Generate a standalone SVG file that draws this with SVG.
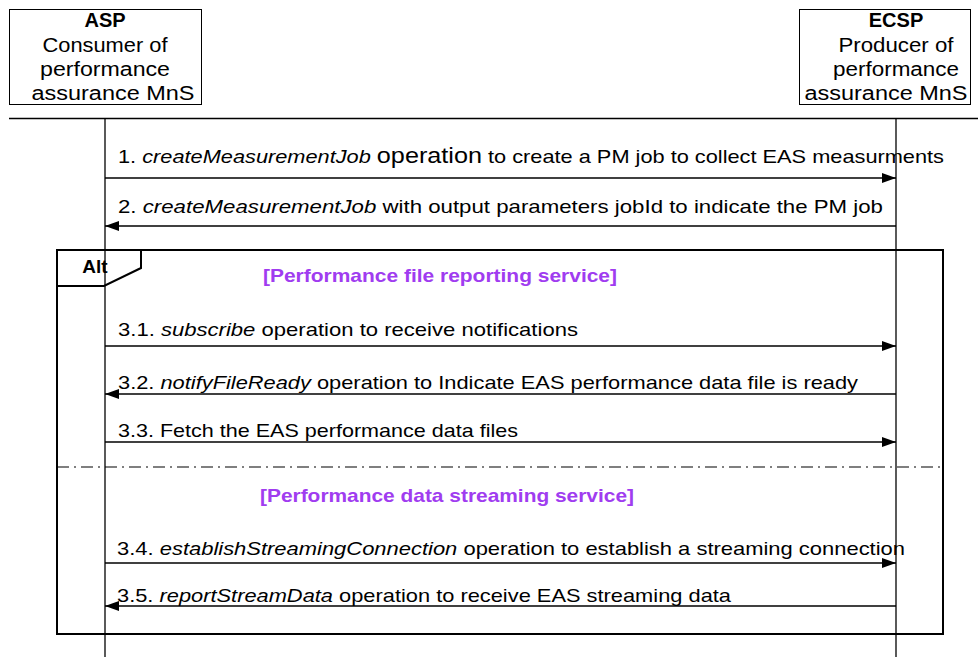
<svg xmlns="http://www.w3.org/2000/svg" width="978" height="657" viewBox="0 0 978 657">
<defs>
<style>
.t{font-family:"Liberation Sans",Arial,sans-serif;font-size:19px;fill:#000}
.h{font-family:"Liberation Sans",Arial,sans-serif;font-size:20px;fill:#000;text-anchor:middle}
.b{font-weight:bold}
.i{font-style:italic}
.p{font-family:"Liberation Sans",Arial,sans-serif;font-size:19px;font-weight:bold;fill:#A03CF0}
.ln{stroke:#000;stroke-width:1.3;fill:none}
.box{stroke:#000;stroke-width:1;fill:#fff}
</style>
<marker id="ah" viewBox="0 0 14 10" refX="14" refY="5" markerWidth="14" markerHeight="10" markerUnits="userSpaceOnUse" orient="auto">
<path d="M0,0 L14,5 L0,10 Z" fill="#000"/>
</marker>
</defs>
<rect width="978" height="657" fill="#fff"/>
<g id="asp">
<rect class="box" x="9.5" y="9.5" width="192" height="95"/>
<text class="h b" x="105" y="27">ASP</text>
<text class="h" x="105" y="52" textLength="125" lengthAdjust="spacingAndGlyphs">Consumer of</text>
<text class="h" x="105" y="76" textLength="130" lengthAdjust="spacingAndGlyphs">performance</text>
<text class="h" x="113" y="100" textLength="163" lengthAdjust="spacingAndGlyphs">assurance MnS</text>
</g>
<g id="ecsp">
<rect class="box" x="799.5" y="9.5" width="171" height="95"/>
<text class="h b" x="896" y="27">ECSP</text>
<text class="h" x="896" y="52" textLength="115" lengthAdjust="spacingAndGlyphs">Producer of</text>
<text class="h" x="896" y="76" textLength="126" lengthAdjust="spacingAndGlyphs">performance</text>
<text class="h" x="886" y="100" textLength="163" lengthAdjust="spacingAndGlyphs">assurance MnS</text>
</g>
<g id="lifelines">
<line class="ln" x1="9" y1="118.5" x2="978" y2="118.5"/>
<line class="ln" x1="105" y1="118" x2="105" y2="657"/>
<line class="ln" x1="896" y1="118" x2="896" y2="657"/>
</g>
<g id="alt">
<rect x="57" y="250" width="886" height="384" fill="none" stroke="#000" stroke-width="2"/>
<path d="M57,286 L104,286 L141,268 L141,250" fill="none" stroke="#000" stroke-width="2"/>
<text class="t b" x="95" y="273" text-anchor="middle" font-size="20">Alt</text>
<line x1="57" y1="467" x2="943" y2="467" stroke="#000" stroke-width="1.2" stroke-dasharray="12,5,2,5"/>
<text class="p" x="263" y="282" textLength="354" lengthAdjust="spacingAndGlyphs">[Performance file reporting service]</text>
<text class="p" x="260" y="502" textLength="374" lengthAdjust="spacingAndGlyphs">[Performance data streaming service]</text>
</g>
<g id="connectors">
<line class="ln" x1="105" y1="178" x2="896" y2="178" marker-end="url(#ah)"/>
<line class="ln" x1="896" y1="226" x2="105" y2="226" marker-end="url(#ah)"/>
<line class="ln" x1="105" y1="346" x2="896" y2="346" marker-end="url(#ah)"/>
<line class="ln" x1="896" y1="394" x2="105" y2="394" marker-end="url(#ah)"/>
<line class="ln" x1="105" y1="442" x2="896" y2="442" marker-end="url(#ah)"/>
<line class="ln" x1="105" y1="563" x2="896" y2="563" marker-end="url(#ah)"/>
<line class="ln" x1="896" y1="606" x2="105" y2="606" marker-end="url(#ah)"/>
</g>
<g id="labels">
<text class="t" x="118" y="163" textLength="826" lengthAdjust="spacingAndGlyphs">1. <tspan class="i">createMeasurementJob</tspan> <tspan font-size="22">operation</tspan> to create a PM job to collect EAS measurments</text>
<text class="t" x="118" y="213" textLength="765" lengthAdjust="spacingAndGlyphs">2. <tspan class="i">createMeasurementJob</tspan> with output parameters jobId to indicate the PM job</text>
<text class="t" x="118" y="336" textLength="460" lengthAdjust="spacingAndGlyphs">3.1. <tspan class="i">subscribe</tspan> operation to receive notifications</text>
<text class="t" x="118" y="389" textLength="740" lengthAdjust="spacingAndGlyphs">3.2. <tspan class="i">notifyFileReady</tspan> operation to Indicate EAS performance data file is ready</text>
<text class="t" x="118" y="437" textLength="400" lengthAdjust="spacingAndGlyphs">3.3. Fetch the EAS performance data files</text>
<text class="t" x="117" y="555" textLength="788" lengthAdjust="spacingAndGlyphs">3.4. <tspan class="i">establishStreamingConnection</tspan> operation to establish a streaming connection</text>
<text class="t" x="117" y="602" textLength="614" lengthAdjust="spacingAndGlyphs">3.5. <tspan class="i">reportStreamData</tspan> operation to receive EAS streaming data</text>
</g>
</svg>
